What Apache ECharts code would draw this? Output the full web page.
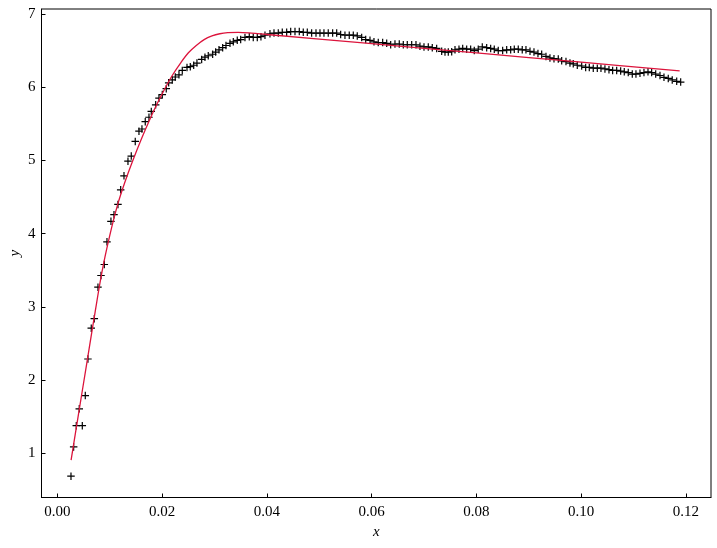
<!DOCTYPE html>
<html>
<head>
<meta charset="utf-8">
<script src="https://cdn.jsdelivr.net/npm/echarts@6/dist/echarts.min.js"></script>
<style>
html,body{margin:0;padding:0;background:#fff;}
#c{width:717px;height:548px;}
</style>
</head>
<body>
<div id="c"></div>
<script>
// measured data (x, y)
const dataX = [
0.00258,0.00309,0.00359,0.00416,0.00474,0.00531,0.00582,0.00645,0.00703,0.00773,
0.00831,0.00894,0.00945,0.01021,0.01079,0.01155,0.01207,0.01270,0.01346,0.01409,
0.01485,0.01556,0.01613,0.01676,0.01747,0.01791,0.01875,0.01938,0.02001,0.02077,
0.02123,0.02192,0.02249,0.02320,0.02383,0.02473,0.02536,0.02601,0.02663,0.02753,
0.02816,0.02879,0.02963,0.03020,0.03084,0.03154,0.03217,0.03294,0.03357,0.03433,
0.03498,0.03580,0.03662,0.03738,0.03815,0.03885,0.03962,0.04057,0.04134,0.04216,
0.04292,0.04376,0.04453,0.04535,0.04617,0.04693,0.04770,0.04853,0.04936,0.05012,
0.05088,0.05170,0.05254,0.05331,0.05407,0.05489,0.05571,0.05648,0.05724,0.05808,
0.05885,0.05967,0.06043,0.06125,0.06209,0.06286,0.06362,0.06444,0.06526,0.06603,
0.06679,0.06763,0.06845,0.06921,0.06998,0.07080,0.07156,0.07240,0.07336,0.07399,
0.07462,0.07527,0.07590,0.07666,0.07737,0.07813,0.07889,0.07958,0.08034,0.08111,
0.08195,0.08271,0.08340,0.08416,0.08500,0.08577,0.08653,0.08722,0.08798,0.08874,
0.08945,0.09022,0.09098,0.09174,0.09245,0.09327,0.09403,0.09480,0.09562,0.09627,
0.09709,0.09785,0.09848,0.09925,0.10009,0.10085,0.10154,0.10230,0.10307,0.10377,
0.10453,0.10530,0.10600,0.10677,0.10753,0.10822,0.10898,0.10975,0.11045,0.11122,
0.11198,0.11275,0.11345,0.11422,0.11504,0.11580,0.11662,0.11738,0.11823,0.11899
];
const dataY = [
0.69,1.09,1.38,1.61,1.38,1.79,2.29,2.71,2.84,3.27,
3.43,3.58,3.89,4.17,4.26,4.40,4.60,4.79,4.99,5.06,
5.26,5.40,5.43,5.53,5.59,5.67,5.76,5.85,5.90,5.98,
6.06,6.10,6.14,6.17,6.23,6.27,6.28,6.30,6.33,6.38,
6.41,6.43,6.45,6.48,6.51,6.54,6.57,6.60,6.62,6.64,
6.65,6.68,6.69,6.68,6.68,6.69,6.71,6.73,6.74,6.74,
6.75,6.75,6.76,6.76,6.76,6.75,6.75,6.74,6.74,6.74,
6.74,6.74,6.74,6.74,6.72,6.71,6.71,6.71,6.70,6.68,
6.65,6.64,6.62,6.61,6.61,6.60,6.58,6.59,6.59,6.58,
6.58,6.58,6.58,6.56,6.55,6.55,6.54,6.53,6.49,6.48,
6.48,6.485,6.51,6.52,6.53,6.52,6.52,6.50,6.52,6.55,
6.54,6.53,6.52,6.50,6.50,6.51,6.51,6.52,6.52,6.51,
6.51,6.49,6.48,6.46,6.45,6.42,6.40,6.39,6.385,6.36,
6.35,6.33,6.32,6.30,6.29,6.27,6.27,6.26,6.26,6.26,
6.25,6.24,6.23,6.23,6.22,6.21,6.20,6.18,6.18,6.19,
6.20,6.21,6.20,6.18,6.16,6.135,6.12,6.10,6.08,6.07
];
// fitted curve
const fitX = [0.0026,0.0040,0.0055,0.0070,0.0085,0.0100,0.0115,0.0130,0.0145,0.0160,
0.0175,0.0190,0.0205,0.0220,0.0235,0.0250,0.0265,0.0280,0.0295,0.0310,
0.0325,0.0345,0.0370,0.0400,0.0600,0.0800,0.1000,0.1188];
const fitY = [0.91,1.53,2.19,2.85,3.48,3.98,4.40,4.73,5.02,5.29,
5.54,5.77,5.98,6.17,6.33,6.47,6.57,6.65,6.70,6.73,
6.745,6.75,6.74,6.72,6.594,6.468,6.342,6.224];
const xTicks = [0,0.02,0.04,0.06,0.08,0.10,0.12];
const yTicks = [1,2,3,4,5,6,7];

const pts = dataX.map((x,i)=>[x,dataY[i]]);
const fit = fitX.map((x,i)=>[x,fitY[i]]);
const font = "'Liberation Serif', 'DejaVu Serif', serif";

const chart = echarts.init(document.getElementById('c'), null, {renderer:'canvas'});
chart.setOption({
  animation:false,
  backgroundColor:'#fff',
  grid:{left:41.5,right:6,top:9,bottom:50.5,show:true,borderColor:'#000',borderWidth:1,
        containLabel:false,outerBoundsMode:'none'},
  xAxis:{
    type:'value', min:-0.00305, max:0.12478,
    name:'x', nameLocation:'middle', nameGap:27, nameMoveOverlap:false,
    nameTextStyle:{fontFamily:font,fontStyle:'italic',fontSize:15,color:'#000'},
    axisLine:{show:true,onZero:false,lineStyle:{color:'#000',width:1}},
    axisTick:{show:true,inside:true,length:4,lineStyle:{color:'#000'},customValues:xTicks},
    axisLabel:{show:true,margin:7,fontFamily:font,fontSize:15,color:'#000',customValues:xTicks,
      formatter:v=>Number(v).toFixed(2)},
    splitLine:{show:false}
  },
  yAxis:{
    type:'value', min:0.399, max:7.068,
    name:'y', nameLocation:'middle', nameGap:19, nameMoveOverlap:false,
    nameTextStyle:{fontFamily:font,fontStyle:'italic',fontSize:15,color:'#000'},
    axisLine:{show:true,onZero:false,lineStyle:{color:'#000',width:1}},
    axisTick:{show:true,inside:true,length:4,lineStyle:{color:'#000'},customValues:yTicks},
    axisLabel:{show:true,margin:6,fontFamily:font,fontSize:15,color:'#000',customValues:yTicks,
      formatter:v=>String(Math.round(v))},
    splitLine:{show:false}
  },
  series:[
    {type:'scatter', data:pts, symbol:'path://M5,0 L5,10 M0,5 L10,5', symbolSize:7.5,
     itemStyle:{color:'none',borderColor:'#000',borderWidth:1.2,opacity:1}, z:2},
    {type:'line', data:fit, smooth:0.35, showSymbol:false, symbol:'none',
     lineStyle:{color:'#dc143c',width:1.3}, z:3}
  ]
});
</script>
</body>
</html>
